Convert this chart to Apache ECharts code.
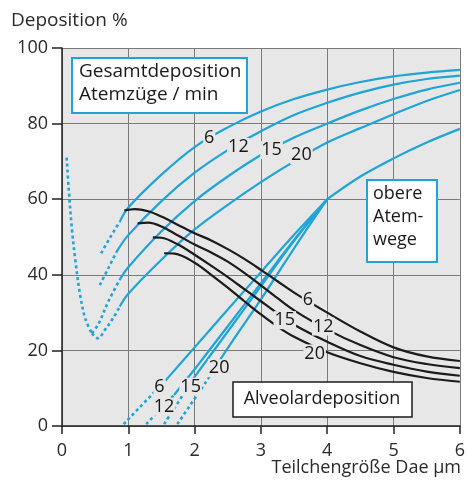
<!DOCTYPE html>
<html>
<head>
<meta charset="utf-8">
<script src="https://cdn.jsdelivr.net/npm/echarts/dist/echarts.min.js"></script>
<style>
  html, body { margin: 0; padding: 0; background: #fff; }
  #chart { width: 468px; height: 485px; }
</style>
</head>
<body>
<div id="chart"></div>
<script>
// Gesamtdeposition (total), per breathing frequency, solid parts
const total6 = [[0.87, 54], [1, 57.8], [1.5, 66.5], [2, 73.8], [2.5, 79], [3, 83.2], [3.5, 86.5], [4, 89], [4.5, 91], [5, 92.5], [5.5, 93.5], [6, 94.2]]
const total12 = [[0.82, 46], [1, 50.5], [1.5, 59.5], [2, 67], [2.5, 73], [3, 78], [3.5, 82.3], [4, 85.5], [4.5, 88.2], [5, 90.3], [5.5, 91.8], [6, 92.7]]
const total15 = [[0.88, 39], [1, 42], [1.5, 51.5], [2, 59.5], [2.5, 66], [3, 71.7], [3.5, 76.3], [4, 80], [4.5, 83.5], [5, 86.5], [5.5, 89], [6, 90.8]]
const total20 = [[0.87, 31.6], [1, 35], [1.5, 44], [2, 52], [2.5, 58.5], [3, 64.5], [3.5, 70], [4, 75], [4.5, 78.8], [5, 82.5], [5.5, 86], [6, 88.9]]
// extrapolated (dotted) parts of total deposition
const totalLeftArm = [[0.07, 71], [0.1, 63], [0.15, 52], [0.2, 44], [0.27, 35], [0.35, 28.5], [0.45, 24.5]]
const total6Dash = [[0.59, 45.7], [0.73, 50], [0.87, 54]]
const total12Dash = [[0.57, 37.3], [0.7, 41.8], [0.82, 46]]
const total15Dash = [[0.45, 24.5], [0.55, 27], [0.7, 33], [0.88, 39]]
const total20Dash = [[0.45, 24.5], [0.54, 23.2], [0.65, 25.5], [0.77, 28.5], [0.87, 31.6]]

// obere Atemwege (upper airways)
const upper6 = [[1.59, 12.6], [2, 20.8], [2.5, 30.8], [3, 40.7], [3.5, 50.6], [4, 60]]
const upper12 = [[1.69, 8.2], [2, 15], [2.5, 26.4], [3, 37.8], [3.5, 49.2], [4, 60]]
const upper15 = [[2.0, 13], [2.5, 25], [3, 37], [3.5, 49], [4, 60]]
const upper20 = [[2.2, 12.4], [2.5, 20.6], [3, 33.5], [3.5, 47], [4, 60]]
const upperTop = [[4, 60], [4.5, 66], [5, 70.8], [5.5, 75], [6, 78.6]]
const upper6Dash = [[0.93, 0.5], [1.59, 12.6]]
const upper12Dash = [[1.27, 0.5], [1.69, 8.2]]
const upper15Dash = [[1.54, 0.5], [2.0, 13]]
const upper20Dash = [[1.74, 0.5], [2.2, 12.4]]

// Alveolardeposition
const alv6 = [[0.94, 57], [1.1, 57.4], [1.3, 56.8], [1.5, 55.4], [1.75, 53.2], [2, 51], [2.25, 49.1], [2.5, 46.8], [2.75, 44.2], [3, 41.3], [3.25, 38.3], [3.5, 35.3], [4, 30], [4.5, 25], [5, 20.8], [5.5, 18.4], [6, 17.2]]
const alv12 = [[1.14, 53.6], [1.3, 53.8], [1.5, 52.8], [1.75, 50.4], [2, 48], [2.25, 45.9], [2.5, 43.5], [2.75, 40.5], [3, 37.2], [3.25, 33.8], [3.5, 30.6], [4, 25.5], [4.5, 21.4], [5, 18.2], [5.5, 16.4], [6, 15.3]]
const alv15 = [[1.37, 49.9], [1.5, 49.8], [1.75, 48], [2, 45.3], [2.25, 42.4], [2.5, 39.4], [2.75, 36.2], [3, 33], [3.25, 29.8], [3.5, 26.8], [4, 22.3], [4.5, 18.5], [5, 16.2], [5.5, 14.4], [6, 13.3]]
const alv20 = [[1.54, 45.7], [1.7, 45.6], [2, 43.2], [2.25, 40], [2.5, 36.6], [2.75, 33], [3, 29.5], [3.25, 26.3], [3.5, 23.6], [4, 19.5], [4.5, 16.6], [5, 14.3], [5.5, 12.7], [6, 11.7]]

// curve labels: [x, y, text]
const totalLabels = [[2.22, 76.2, '6'], [2.66, 73.8, '12'], [3.16, 73, '15'], [3.61, 71.7, '20']]
const alvLabels = [[3.71, 33.3, '6'], [3.94, 26.3, '12'], [3.36, 28, '15'], [3.81, 19.2, '20']]
const upperLabels = [[1.47, 10.4, '6'], [1.54, 5.1, '12'], [1.94, 10.4, '15'], [2.37, 15.3, '20']]

const BLUE = '#1ea4d6'
const DARK = '#1b1b1b'
const BG = '#e7e7e7'
const FONT = 'Open Sans'

const chart = echarts.init(document.getElementById('chart'))

function curve(data, color, dotted) {
  return {
    type: 'line',
    data: data,
    smooth: 0.35,
    showSymbol: false,
    silent: true,
    z: color === BLUE ? 3 : 4,
    lineStyle: { color: color, width: dotted ? 2.6 : 2.2, type: dotted ? [3, 3] : 'solid' }
  }
}

function labels(data) {
  return {
    type: 'scatter',
    data: data,
    symbolSize: 0,
    silent: true,
    z: 6,
    itemStyle: { opacity: 1 },
    label: {
      show: true,
      position: 'inside',
      formatter: p => p.value[2],
      fontFamily: FONT,
      fontSize: 18,
      color: '#151515',
      opacity: 1,
      backgroundColor: BG,
      padding: [0, 1]
    }
  }
}

let option = {
  animation: false,
  grid: {
    left: 62,
    right: 5,
    top: 48,
    bottom: 59,
    show: true,
    backgroundColor: BG,
    borderWidth: 0
  },
  xAxis: {
    type: 'value',
    min: 0,
    max: 6,
    interval: 1,
    axisLine: { show: true, lineStyle: { color: '#222', width: 1.5 } },
    axisTick: { show: true, length: 8, lineStyle: { color: '#222', width: 1.5 } },
    axisLabel: { fontFamily: FONT, fontSize: 18, color: '#2a2a2a', margin: 16 },
    splitLine: { show: true, lineStyle: { color: '#7a7a7a', width: 1 } }
  },
  yAxis: {
    type: 'value',
    min: 0,
    max: 100,
    interval: 20,
    axisLine: { show: true, lineStyle: { color: '#222', width: 1.5 } },
    axisTick: { show: true, length: 10, lineStyle: { color: '#222', width: 1.5 } },
    axisLabel: { fontFamily: FONT, fontSize: 18, color: '#2a2a2a', margin: 14 },
    splitLine: { show: true, lineStyle: { color: '#7a7a7a', width: 1 } }
  },
  graphic: [
    { type: 'text', left: 11, top: 11, style: { text: 'Deposition %', font: '19px "Open Sans"', fill: '#2a2a2a' } },
    { type: 'text', right: 7, top: 459, style: { text: 'Teilchengröße Dae µm', font: '18px "Open Sans"', fill: '#2a2a2a' } },
    { type: 'rect', shape: { x: 72, y: 58, width: 175, height: 55 }, style: { fill: '#fff', stroke: BLUE, lineWidth: 2 }, z: 10 },
    { type: 'text', x: 79, y: 60, z: 11, style: { text: 'Gesamtdeposition\nAtemzüge / min', font: '19px "Open Sans"', lineHeight: 23, fill: '#1a1a1a' } },
    { type: 'rect', shape: { x: 367, y: 180, width: 70, height: 82 }, style: { fill: '#fff', stroke: BLUE, lineWidth: 2 }, z: 10 },
    { type: 'text', x: 373, y: 182, z: 11, style: { text: 'obere\nAtem-\nwege', font: '18px "Open Sans"', lineHeight: 23, fill: '#1a1a1a' } },
    { type: 'rect', shape: { x: 233, y: 382, width: 179, height: 35 }, style: { fill: '#fff', stroke: DARK, lineWidth: 1.5 }, z: 10 },
    { type: 'text', x: 322, y: 399, z: 11, style: { text: 'Alveolardeposition', font: '18px "Open Sans"', fill: '#1a1a1a', align: 'center', verticalAlign: 'middle' } }
  ],
  series: [
    curve(total6, BLUE), curve(total12, BLUE), curve(total15, BLUE), curve(total20, BLUE),
    curve(totalLeftArm, BLUE, true), curve(total6Dash, BLUE, true), curve(total12Dash, BLUE, true),
    curve(total15Dash, BLUE, true), curve(total20Dash, BLUE, true),
    curve(upper6, BLUE), curve(upper12, BLUE), curve(upper15, BLUE), curve(upper20, BLUE), curve(upperTop, BLUE),
    curve(upper6Dash, BLUE, true), curve(upper12Dash, BLUE, true), curve(upper15Dash, BLUE, true), curve(upper20Dash, BLUE, true),
    curve(alv6, DARK), curve(alv12, DARK), curve(alv15, DARK), curve(alv20, DARK),
    labels(totalLabels), labels(alvLabels), labels(upperLabels)
  ]
}

chart.setOption(option)
</script>
</body>
</html>
